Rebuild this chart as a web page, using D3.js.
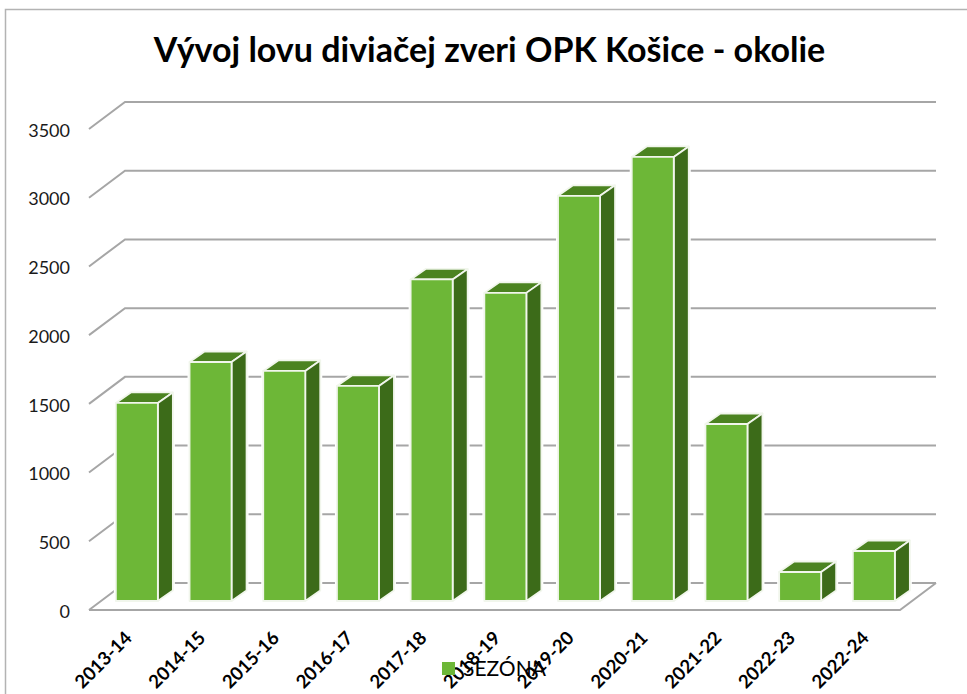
<!DOCTYPE html>
<html>
<head>
<meta charset="utf-8">
<script src="https://cdn.jsdelivr.net/npm/d3@7"></script>
<style>
  html, body { margin: 0; padding: 0; background: #fff; overflow: hidden; }
  svg { display: block; font-family: Lato, "Open Sans", sans-serif; }
</style>
</head>
<body>
<svg id="chart" width="967" height="694"></svg>
<script>
const seasons = ["2013-14", "2014-15", "2015-16", "2016-17", "2017-18", "2018-19",
  "2019-20", "2020-21", "2021-22", "2022-23", "2022-24"];
const hunted = [1441, 1739, 1674, 1565, 2340, 2242, 2948, 3231, 1288, 211, 364];
const yTicks = [0, 500, 1000, 1500, 2000, 2500, 3000, 3500];
const seriesName = "SEZÓNA";
const chartTitle = "Vývoj lovu diviačej zveri OPK Košice - okolie";

const svg = d3.select("#chart");

// floor of the 3d box: front edge and how far the back wall is shifted
const plot = { left: 89, right: 900, bottom: 610, top: 129 };
const depth = { x: 36, y: -27 };
// a bar sits a bit inside the floor and has its own, smaller depth
const barDepth = { x: 15, y: -10.5 };
const barBase = 601;

const xScale = d3.scaleBand()
  .domain(seasons)
  .range([plot.left + 11, plot.left + 11 + 73.7 * seasons.length])
  .paddingInner(0.43)
  .paddingOuter(0.215);

const yScale = d3.scaleLinear().domain([0, 3500]).range([plot.bottom, plot.top]);

// chart frame, only top and left show in the picture
svg.append("path")
  .attr("d", "M5.5,700V9.5H967")
  .attr("fill", "none")
  .attr("stroke", "#b3b3b3")
  .attr("stroke-width", 1.5);

svg.append("text")
  .attr("x", 489.5)
  .attr("y", 62)
  .attr("text-anchor", "middle")
  .attr("font-size", 34)
  .attr("font-weight", 700)
  .attr("fill", "#000")
  .text(chartTitle);

// back wall gridlines with the diagonal going to the front
const grid = svg.append("g").attr("fill", "none").attr("stroke", "#a6a6a6").attr("stroke-width", 2);
grid.selectAll("path")
  .data(yTicks)
  .enter()
  .append("path")
  .attr("d", function (d) {
    const y = yScale(d);
    return `M${plot.left},${y}L${plot.left + depth.x},${y + depth.y}L${plot.right + depth.x},${y + depth.y}`;
  });

// floor front and right edges
grid.append("path")
  .attr("d", `M${plot.left},${plot.bottom}L${plot.right},${plot.bottom}L${plot.right + depth.x},${plot.bottom + depth.y}`);

// y axis labels
const yAxis = d3.axisLeft(yScale).tickValues(yTicks).tickSize(0).tickFormat(d3.format("d"));
const yAxisG = svg.append("g")
  .attr("transform", "translate(73,1.5)")
  .call(yAxis);
yAxisG.select(".domain").remove();
yAxisG.selectAll("text")
  .attr("font-family", "Lato")
  .attr("font-size", 18)
  .attr("fill", "#1a1a1a");

// bars
const bars = svg.append("g").selectAll("g")
  .data(seasons)
  .enter()
  .append("g")
  .attr("stroke", "#f1f6ec")
  .attr("stroke-width", 1.8)
  .attr("stroke-linejoin", "round");

function barTop(i) {
  return barBase - (plot.bottom - yScale(hunted[i]));
}

// white halo cuts the gridlines just before they reach a bar
bars.append("path")
  .attr("fill", "#fff")
  .attr("stroke", "#fff")
  .attr("stroke-width", 4)
  .attr("d", function (d, i) {
    const x = xScale(d), w = xScale.bandwidth(), t = barTop(i);
    return `M${x},${t}L${x + barDepth.x},${t + barDepth.y}L${x + w + barDepth.x},${t + barDepth.y}` +
      `L${x + w + barDepth.x},${barBase + barDepth.y}L${x + w},${barBase}L${x},${barBase}Z`;
  });

bars.append("path")
  .attr("fill", "#4b8320")
  .attr("d", function (d, i) {
    const x = xScale(d), w = xScale.bandwidth(), t = barTop(i);
    return `M${x},${t}L${x + barDepth.x},${t + barDepth.y}L${x + w + barDepth.x},${t + barDepth.y}L${x + w},${t}Z`;
  });

bars.append("path")
  .attr("fill", "#3c6b19")
  .attr("d", function (d, i) {
    const x = xScale(d) + xScale.bandwidth(), t = barTop(i);
    return `M${x},${t}L${x + barDepth.x},${t + barDepth.y}L${x + barDepth.x},${barBase + barDepth.y}L${x},${barBase}Z`;
  });

bars.append("rect")
  .attr("fill", "#6db737")
  .attr("x", (d) => xScale(d))
  .attr("y", (d, i) => barTop(i))
  .attr("width", xScale.bandwidth())
  .attr("height", (d, i) => barBase - barTop(i));

// x labels, rotated
svg.append("g").selectAll("text")
  .data(seasons)
  .enter()
  .append("text")
  .attr("transform", (d) => `translate(${xScale(d) + 8},630) rotate(-45)`)
  .attr("text-anchor", "end")
  .attr("dy", "0.7em")
  .attr("font-size", 18.5)
  .attr("font-weight", 700)
  .attr("fill", "#000")
  .text((d) => d);

// legend, it really does sit on top of the labels
svg.append("rect")
  .attr("x", 442).attr("y", 662)
  .attr("width", 13).attr("height", 13)
  .attr("fill", "#6db737");

svg.append("text")
  .attr("x", 463)
  .attr("y", 676)
  .attr("font-size", 21)
  .attr("fill", "#000")
  .text(seriesName);
</script>
</body>
</html>
